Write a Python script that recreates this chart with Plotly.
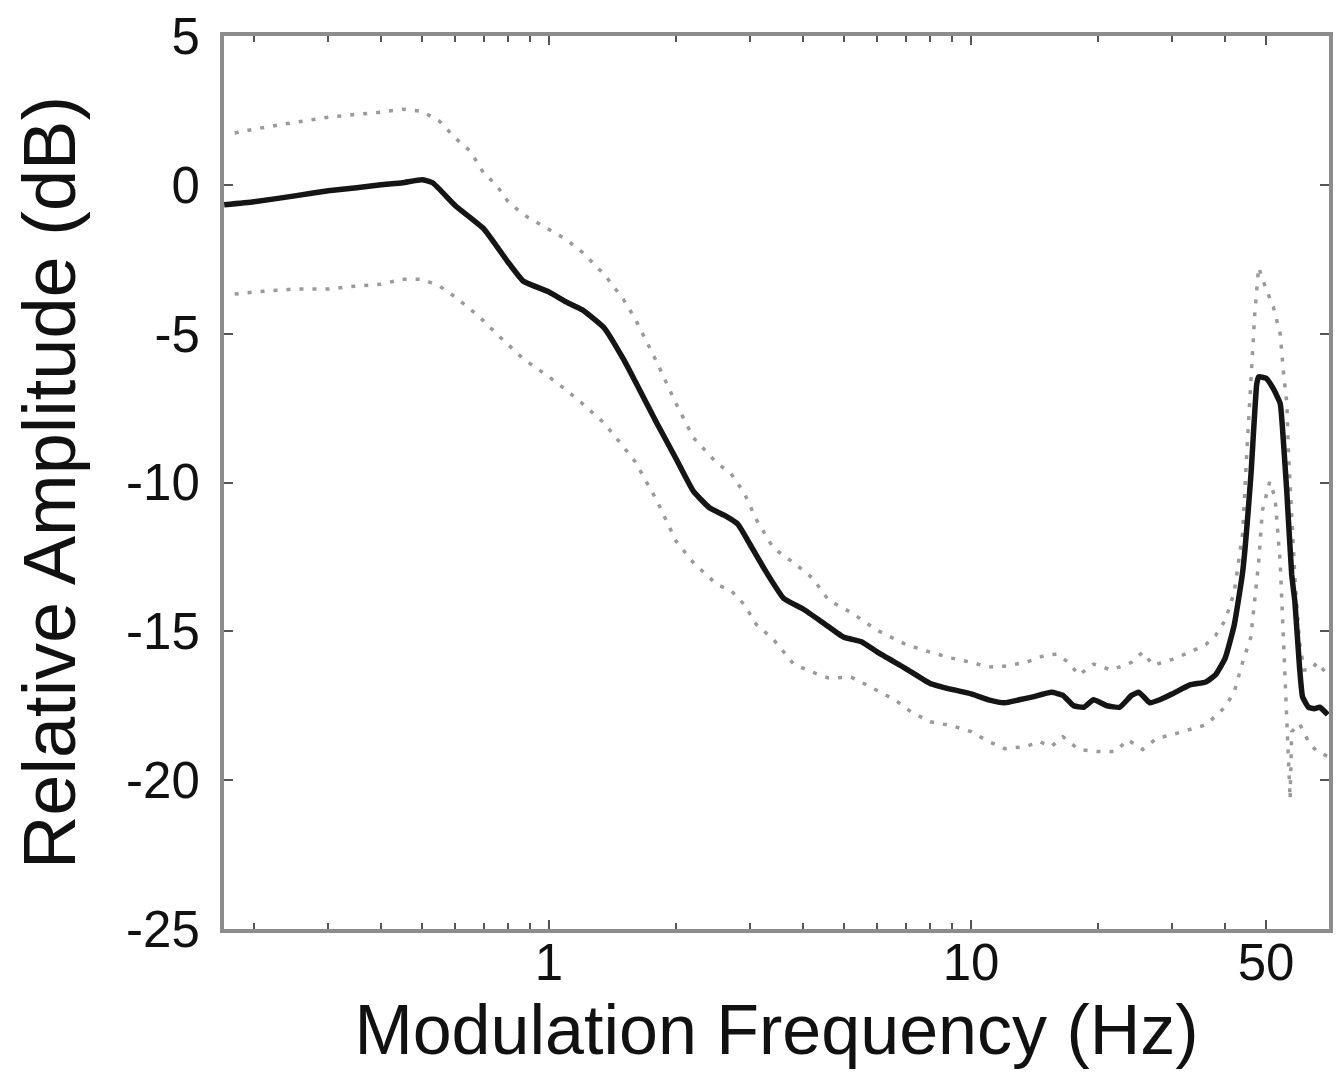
import plotly.graph_objects as go

# mean response
freq_mean = [0.17, 0.2, 0.25, 0.3, 0.35, 0.4, 0.45, 0.5, 0.53, 0.6, 0.7, 0.8, 0.87, 1.0, 1.1,
             1.2, 1.35, 1.5, 1.6, 1.8, 2.0, 2.2, 2.4, 2.6, 2.8, 3.0, 3.3, 3.6, 4.0, 4.5,
             5.0, 5.5, 6.0, 7.0, 8.0, 9.0, 10, 11, 12, 13, 14, 15.5, 16.5, 17.5, 18.5,
             19.5, 21, 22.5, 24, 25, 26.5, 28, 30, 33, 36, 38, 40, 42, 44, 46, 47.5, 48,
             50, 52, 54, 55, 56, 57.5, 58.5, 60, 61, 63, 65, 67, 70]
amp_mean = [-0.67, -0.57, -0.37, -0.2, -0.1, 0.0, 0.07, 0.17, 0.07, -0.7, -1.47, -2.6, -3.24, -3.6, -3.94,
            -4.2, -4.8, -5.85, -6.6, -8.0, -9.2, -10.3, -10.85, -11.1, -11.4, -12.1, -13.1, -13.9, -14.25, -14.75,
            -15.2, -15.35, -15.7, -16.25, -16.75, -16.95, -17.1, -17.3, -17.4, -17.3, -17.2, -17.05, -17.15, -17.5, -17.55,
            -17.3, -17.5, -17.55, -17.15, -17.05, -17.4, -17.3, -17.1, -16.8, -16.7, -16.45, -15.9, -14.8, -13.0, -9.8, -6.7, -6.45,
            -6.5, -6.85, -7.35, -8.7, -10.35, -13.1, -14.0, -16.2, -17.2, -17.55, -17.6, -17.55, -17.8]

# upper bound
freq_hi = [0.18, 0.2, 0.25, 0.3, 0.35, 0.4, 0.45, 0.5, 0.55, 0.6, 0.65, 0.7, 0.75, 0.8, 0.87,
           1.0, 1.1, 1.2, 1.35, 1.5, 1.6, 1.8, 2.0, 2.2, 2.5, 2.7, 2.9, 3.1, 3.4, 3.8,
           4.2, 4.6, 5.2, 6.0, 7.0, 8.0, 9.0, 10, 11, 12, 13.5, 15, 16, 17, 18,
           19.5, 21.5, 24, 25.5, 27, 30, 33, 36, 38, 40, 42, 44, 45, 46, 47,
           48, 50, 52, 54, 55, 56, 56.5, 57.5, 58.5, 60, 61.5, 64, 66, 70]
amp_hi = [1.74, 1.87, 2.1, 2.27, 2.37, 2.44, 2.54, 2.47, 2.14, 1.57, 1.14, 0.4, 0.0, -0.57, -1.0,
          -1.5, -1.84, -2.27, -3.0, -3.84, -4.5, -5.95, -7.35, -8.5, -9.35, -9.7, -10.35, -11.25, -12.2, -12.7,
          -13.2, -13.96, -14.37, -14.97, -15.44, -15.7, -15.9, -16.04, -16.2, -16.17, -16.04, -15.8, -15.77, -16.04, -16.47,
          -16.1, -16.3, -16.04, -15.7, -16.14, -15.94, -15.7, -15.44, -15.13, -14.63, -13.7, -11.7, -9.0, -6.68, -4.34,
          -2.77, -3.5, -4.1, -5.0, -6.35, -7.35, -9.0, -11.0, -13.2, -15.37, -16.3, -16.3, -16.04, -16.47]

# lower bound
freq_lo = [0.18, 0.2, 0.25, 0.3, 0.35, 0.4, 0.45, 0.5, 0.55, 0.6, 0.65, 0.7, 0.75, 0.87, 1.0,
           1.1, 1.2, 1.35, 1.5, 1.6, 1.8, 2.0, 2.2, 2.5, 2.7, 2.9, 3.1, 3.4, 3.8, 4.2,
           4.6, 5.2, 5.6, 6.0, 6.6, 7.2, 8.0, 9.0, 10, 11, 12, 13.5, 14.5, 15.5, 16.5,
           18, 20, 22, 23.5, 25.5, 27.5, 30, 33, 36, 38, 40, 42, 44, 46, 47,
           48, 49, 51, 52.5, 54, 55, 56, 57, 57.5, 60, 63, 66, 70]
amp_lo = [-3.67, -3.6, -3.5, -3.5, -3.4, -3.34, -3.17, -3.17, -3.4, -3.77, -4.17, -4.57, -5.0, -5.85, -6.45,
          -6.9, -7.35, -8.0, -8.8, -9.3, -10.6, -11.97, -12.7, -13.43, -13.63, -14.1, -14.77, -15.27, -16.1, -16.37,
          -16.57, -16.54, -16.77, -17.0, -17.3, -17.7, -18.04, -18.17, -18.37, -18.7, -18.94, -18.87, -18.7, -18.87, -18.54,
          -18.97, -19.04, -19.04, -18.64, -18.97, -18.6, -18.47, -18.3, -18.14, -17.84, -17.54, -17.04, -16.04, -15.2, -14.03,
          -12.7, -10.94, -9.97, -10.5, -12.7, -15.37, -18.2, -20.64, -18.37, -18.1, -18.7, -19.04, -19.2]

x_ticks = [1, 10, 50]
x_ticklabels = ["1", "10", "50"]
x_minor = [0.2, 0.3, 0.4, 0.5, 0.6, 0.7, 0.8, 0.9, 2, 3, 4, 5, 6, 7, 8, 9, 20, 30, 40]
y_ticks = [5, 0, -5, -10, -15, -20, -25]
y_ticklabels = ["5", "0", "-5", "-10", "-15", "-20", "-25"]

dot_style = dict(color="#9a9a9a", width=3.5, dash="4px,9px")

fig = go.Figure()
fig.add_trace(go.Scatter(x=freq_hi, y=amp_hi, mode="lines", line=dot_style, showlegend=False))
fig.add_trace(go.Scatter(x=freq_lo, y=amp_lo, mode="lines", line=dot_style, showlegend=False))
fig.add_trace(go.Scatter(x=freq_mean, y=amp_mean, mode="lines",
                         line=dict(color="#151515", width=5.5, shape="spline", smoothing=0.4),
                         showlegend=False))

axis_common = dict(
    showline=True, linecolor="#8c8c8c", linewidth=4, mirror="allticks",
    ticks="inside", tickcolor="#555", tickwidth=2, ticklen=9,
    showgrid=False, zeroline=False, automargin=False,
    ticklabeloverflow="allow",
    tickfont=dict(family="Liberation Sans, Arial, sans-serif", size=51, color="#111"),
)

fig.update_layout(
    width=1341, height=1073,
    paper_bgcolor="white", plot_bgcolor="white",
    margin=dict(l=216, r=20, t=28, b=152),
    font=dict(family="Liberation Sans, Arial, sans-serif", color="#111"),
    xaxis=dict(
        type="log", range=[-0.77, 1.848],
        tickmode="array", tickvals=x_ticks, ticktext=x_ticklabels,
        ticklabelstandoff=-14,
        minor=dict(tickmode="array", tickvals=x_minor, ticks="inside", ticklen=6,
                   tickcolor="#555", tickwidth=2),
        title=dict(text="Modulation Frequency (Hz)", standoff=2,
                   font=dict(size=70, color="#111")),
        **axis_common,
    ),
    yaxis=dict(
        range=[-25, 5], tickmode="array", tickvals=y_ticks, ticktext=y_ticklabels,
        ticklabelstandoff=10,
        title=dict(text="Relative Amplitude (dB)", standoff=56,
                   font=dict(size=74, color="#111")),
        **axis_common,
    ),
)

fig.write_html("out.html")
